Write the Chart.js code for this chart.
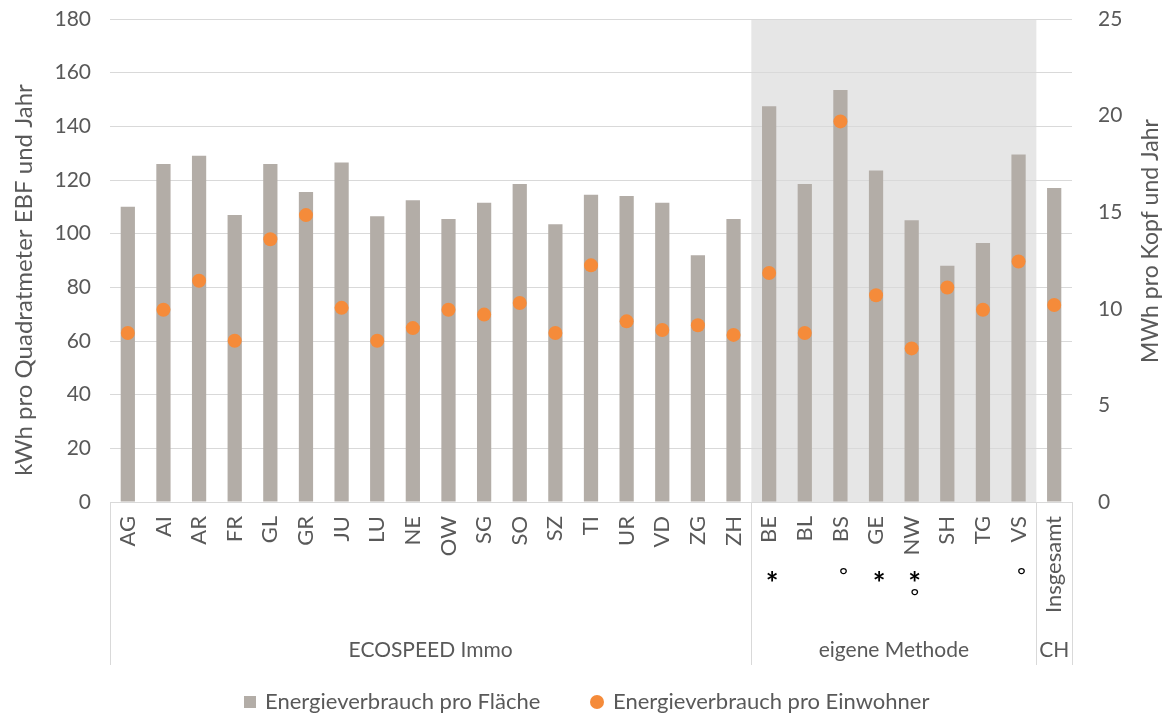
<!DOCTYPE html>
<html>
<head>
<meta charset="utf-8">
<script src="https://cdn.jsdelivr.net/npm/chart.js@4.4.1/dist/chart.umd.min.js"></script>
<style>
  html, body { margin: 0; padding: 0; background: #fff; }
  #wrap { width: 1168px; height: 717px; position: relative; }
</style>
</head>
<body>
<div id="wrap"><canvas id="chart"></canvas></div>
<script>
// Kantone und Gesamtwert CH
const categories = ['AG', 'AI', 'AR', 'FR', 'GL', 'GR', 'JU', 'LU', 'NE', 'OW', 'SG', 'SO', 'SZ', 'TI',
  'UR', 'VD', 'ZG', 'ZH', 'BE', 'BL', 'BS', 'GE', 'NW', 'SH', 'TG', 'VS', 'Insgesamt'];

// kWh pro m2 EBF und Jahr (linke Achse)
const flaecheValues = [110, 126, 129, 107, 126, 115.5, 126.5, 106.5, 112.5, 105.5, 111.5, 118.5, 103.5, 114.5,
  114, 111.5, 92, 105.5, 147.5, 118.5, 153.5, 123.5, 105, 88, 96.5, 129.5, 117];

// MWh pro Kopf und Jahr (rechte Achse)
const einwohnerValues = [8.75, 9.95, 11.45, 8.35, 13.6, 14.85, 10.05, 8.35, 9.0, 9.95, 9.7, 10.3, 8.75, 12.25,
  9.35, 8.9, 9.15, 8.65, 11.85, 8.75, 19.7, 10.7, 7.95, 11.1, 9.95, 12.45, 10.2];

// Gruppen der Kategorienachse
const groupLabels = ['ECOSPEED Immo', 'eigene Methode', 'CH'];
const groupStarts = [0, 18, 26];
const groupEnds = [17, 25, 26];

// Fussnoten-Zeichen unter den Kantonen
const noteCantons = ['BE', 'BS', 'GE', 'NW', 'NW', 'VS'];
const noteSymbols = ['*', '°', '*', '*', '°', '°'];
const noteRows = [0, 0, 0, 0, 1, 0];

const leftTitle = 'kWh pro Quadratmeter EBF und Jahr';
const rightTitle = 'MWh pro Kopf und Jahr';

const barColor = '#b3ada7';
const dotColor = '#f58b3a';
const textColor = '#595959';
const gridColor = '#d9d9d9';
const fontFamily = 'Lato, "Open Sans", sans-serif';

// grauer Hintergrund hinter "eigene Methode"
const shadePlugin = {
  id: 'shade',
  beforeDraw(chart) {
    const { ctx, chartArea, scales } = chart;
    const x = scales.x;
    const left = (x.getPixelForValue(groupStarts[1] - 1) + x.getPixelForValue(groupStarts[1])) / 2;
    const right = (x.getPixelForValue(groupEnds[1]) + x.getPixelForValue(groupEnds[1] + 1)) / 2;
    ctx.save();
    ctx.fillStyle = '#e6e6e6';
    ctx.fillRect(left, chartArea.top, right - left, chartArea.bottom - chartArea.top);
    ctx.restore();
  }
};

function drawVertical(ctx, text, x, y, font) {
  ctx.save();
  ctx.translate(x, y);
  ctx.rotate(-Math.PI / 2);
  ctx.font = font;
  ctx.fillText(text, 0, 0);
  ctx.restore();
}

// Gruppenbeschriftung, Trennlinien, Fussnoten, Achsentitel und Legende
const groupPlugin = {
  id: 'groups',
  afterDraw(chart) {
    const { ctx, chartArea, scales } = chart;
    const x = scales.x;
    const bottom = 665;
    ctx.save();
    ctx.strokeStyle = gridColor;
    ctx.lineWidth = 1;

    const bounds = [chartArea.left];
    groupEnds.forEach((end, i) => {
      const r = i === groupEnds.length - 1
        ? chartArea.right
        : (x.getPixelForValue(end) + x.getPixelForValue(end + 1)) / 2;
      bounds.push(r);
    });
    bounds.forEach(b => {
      const bx = Math.round(b) + 0.5;
      ctx.beginPath();
      ctx.moveTo(bx, chartArea.bottom);
      ctx.lineTo(bx, bottom);
      ctx.stroke();
    });

    ctx.fillStyle = textColor;
    ctx.font = '21px ' + fontFamily;
    ctx.textAlign = 'center';
    ctx.textBaseline = 'middle';
    groupLabels.forEach((label, i) => {
      ctx.fillText(label, (bounds[i] + bounds[i + 1]) / 2, 650);
    });

    // Achsentitel (von unten nach oben gelesen)
    drawVertical(ctx, leftTitle, 24, 280, '24px ' + fontFamily);
    drawVertical(ctx, rightTitle, 1151, 241, '23px ' + fontFamily);

    // Fussnoten
    ctx.fillStyle = '#000';
    noteCantons.forEach((c, i) => {
      const px = x.getPixelForValue(categories.indexOf(c)) + 3;
      const sym = noteSymbols[i];
      ctx.font = sym === '*' ? 'bold 30px ' + fontFamily : '22px "DejaVu Sans", sans-serif';
      const y = (sym === '*' ? 584 : 578) + noteRows[i] * 21;
      ctx.fillText(sym, px, y);
    });

    // Legende
    const bars = chart.data.datasets.find(d => d.type === 'bar');
    const dots = chart.data.datasets.find(d => d.type === 'line');
    const ly = 702;
    ctx.font = '22px ' + fontFamily;
    ctx.textAlign = 'left';
    ctx.fillStyle = barColor;
    ctx.fillRect(244, ly - 6, 12, 12);
    ctx.fillStyle = textColor;
    ctx.fillText(bars.label, 265, ly);
    ctx.fillStyle = dotColor;
    ctx.beginPath();
    ctx.arc(597, ly, 7, 0, Math.PI * 2);
    ctx.fill();
    ctx.fillStyle = textColor;
    ctx.fillText(dots.label, 613, ly);
    ctx.restore();
  }
};

function fixY(scale, width) {
  scale.width = width;
  scale.paddingTop = 0;
  scale.paddingBottom = 0;
}

const ctx = document.getElementById('chart').getContext('2d');
new Chart(ctx, {
  data: {
    labels: categories,
    datasets: [
      {
        type: 'line',
        label: 'Energieverbrauch pro Einwohner',
        data: einwohnerValues,
        yAxisID: 'y2',
        showLine: false,
        pointRadius: 7,
        pointHoverRadius: 7,
        pointBackgroundColor: dotColor,
        pointBorderWidth: 0,
        borderColor: dotColor,
        order: 0
      },
      {
        type: 'bar',
        label: 'Energieverbrauch pro Fläche',
        data: flaecheValues,
        yAxisID: 'y',
        backgroundColor: barColor,
        categoryPercentage: 1,
        barPercentage: 0.4,
        order: 1
      }
    ]
  },
  options: {
    responsive: true,
    maintainAspectRatio: false,
    animation: false,
    layout: { padding: { top: 19, right: 0, bottom: 0, left: 0 } },
    plugins: {
      legend: { display: false },
      tooltip: { enabled: false }
    },
    scales: {
      x: {
        grid: { display: false, drawTicks: false },
        border: { display: true, color: gridColor },
        ticks: {
          color: textColor,
          font: { family: fontFamily, size: 22 },
          minRotation: 90,
          maxRotation: 90,
          autoSkip: false,
          padding: 14
        },
        afterFit(scale) { scale.height = 215; }
      },
      y: {
        position: 'left',
        min: 0,
        max: 180,
        ticks: {
          stepSize: 20,
          color: textColor,
          font: { family: fontFamily, size: 21 },
          padding: 19
        },
        grid: { color: gridColor, drawTicks: false },
        border: { display: false },
        afterFit(scale) { fixY(scale, 110); }
      },
      y2: {
        position: 'right',
        min: 0,
        max: 25,
        ticks: {
          stepSize: 5,
          color: textColor,
          font: { family: fontFamily, size: 21 },
          padding: 26
        },
        grid: { display: false, drawTicks: false },
        border: { display: false },
        afterFit(scale) { fixY(scale, 96); }
      }
    }
  },
  plugins: [shadePlugin, groupPlugin]
});
</script>
</body>
</html>
